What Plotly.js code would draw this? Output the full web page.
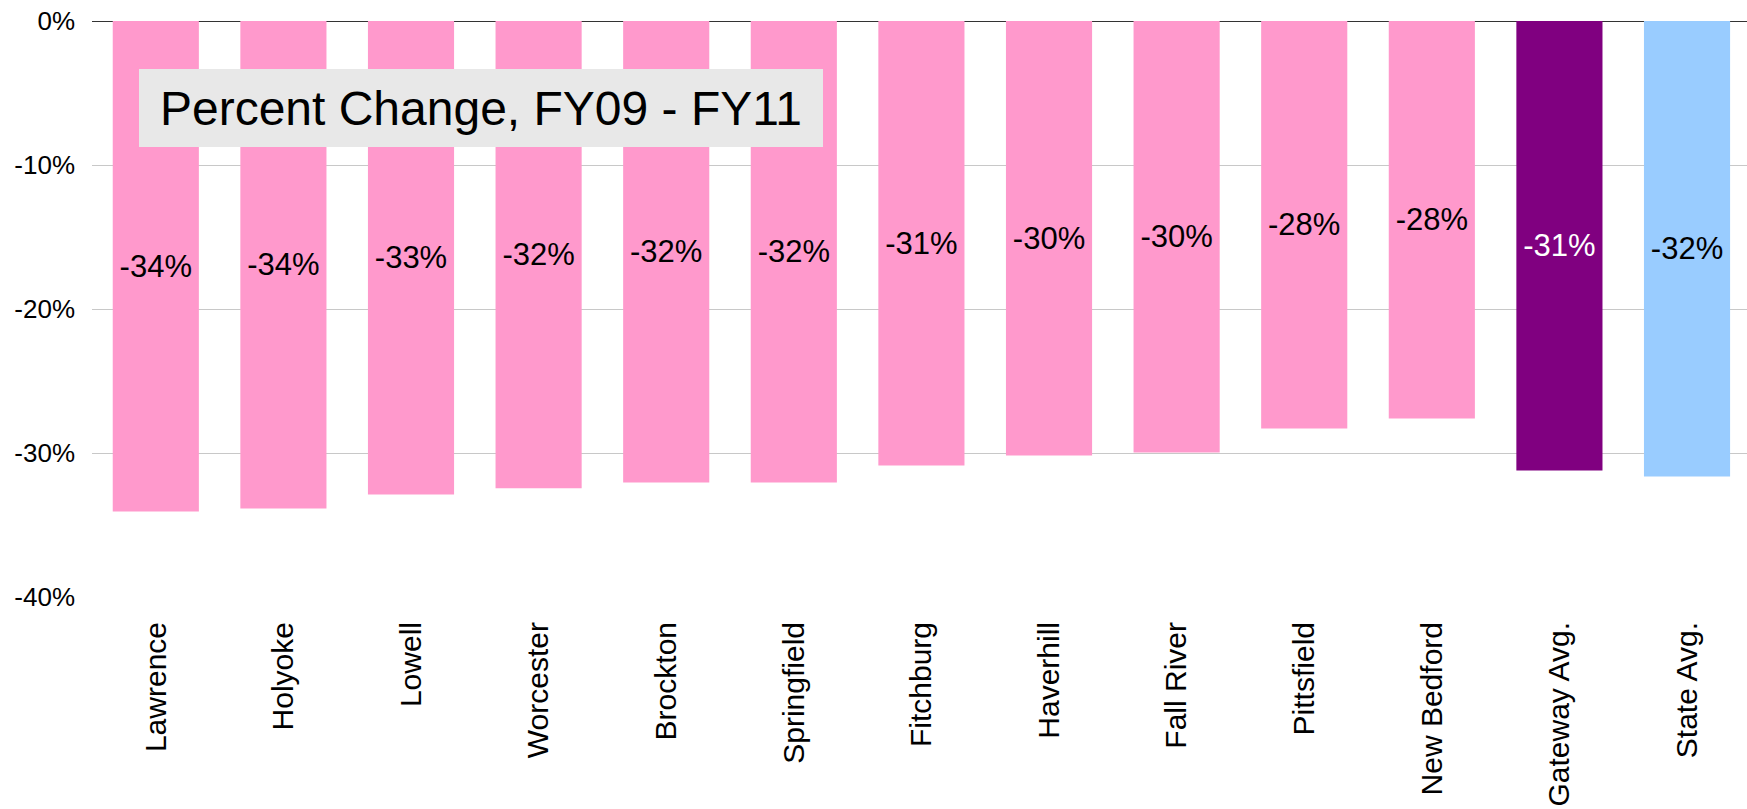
<!DOCTYPE html>
<html>
<head>
<meta charset="utf-8">
<script src="https://cdn.plot.ly/plotly-3.0.1.min.js"></script>
<style>
html,body{margin:0;padding:0;background:#fff;}
#chart{width:1747px;height:809px;}
</style>
</head>
<body>
<div id="chart"></div>
<script>
const categories = ["Lawrence","Holyoke","Lowell","Worcester","Brockton","Springfield","Fitchburg","Haverhill","Fall River","Pittsfield","New Bedford","Gateway Avg.","State Avg."];
const percentChange = [-34.06,-33.85,-32.88,-32.45,-32.05,-32.05,-30.87,-30.17,-29.97,-28.30,-27.6,-31.21,-31.63];
const barColors = ["#FF99CC","#FF99CC","#FF99CC","#FF99CC","#FF99CC","#FF99CC","#FF99CC","#FF99CC","#FF99CC","#FF99CC","#FF99CC","#800080","#99CCFF"];
const labelColors = ["#000","#000","#000","#000","#000","#000","#000","#000","#000","#000","#000","#fff","#000"];
const yTicks = [0,-10,-20,-30,-40];
const yTickText = ["0%","-10%","-20%","-30%","-40%"];
const titleText = "Percent Change, FY09 - FY11";

const FONT = "Liberation Sans, Arial, Helvetica, sans-serif";

const trace = {
  type: "bar",
  x: categories,
  y: percentChange,
  marker: {color: barColors, line: {width: 0}},
  text: percentChange.map(v => Math.round(v).toString() + "%"),
  texttemplate: "%{text}",
  textposition: "inside",
  insidetextanchor: "middle",
  textangle: 0,
  constraintext: "none",
  insidetextfont: {family: FONT, size: 31, color: labelColors},
  hoverinfo: "skip"
};

const layout = {
  width: 1747,
  height: 809,
  margin: {l: 92, r: 0, t: 21, b: 212},
  paper_bgcolor: "#fff",
  plot_bgcolor: "#fff",
  showlegend: false,
  bargap: 0.325,
  xaxis: {
    type: "category",
    range: [-0.5, 12.47],
    tickangle: -90,
    tickfont: {family: FONT, size: 30, color: "#000"},
    showgrid: false,
    showline: false,
    ticks: "",
    ticklabelstandoff: 18,
    zeroline: false
  },
  yaxis: {
    range: [-40, 0],
    tickmode: "array",
    tickvals: yTicks,
    ticktext: yTickText,
    tickfont: {family: FONT, size: 26, color: "#000"},
    showgrid: true,
    gridcolor: "#c8c8c8",
    gridwidth: 1,
    zeroline: true,
    zerolinecolor: "#333",
    zerolinewidth: 1,
    showline: false,
    ticks: "",
    ticklabelstandoff: 16
  },
  annotations: [{
    text: titleText,
    xref: "paper", yref: "paper",
    x: 0.0284, y: 0.9167,
    xanchor: "left", yanchor: "top",
    showarrow: false,
    bgcolor: "#e8e8e8",
    borderpad: 0,
    borderwidth: 0,
    width: 684,
    height: 78,
    align: "center",
    valign: "middle",
    font: {family: FONT, size: 48, color: "#000"}
  }]
};

Plotly.newPlot("chart", [trace], layout, {displayModeBar: false, staticPlot: true});
</script>
</body>
</html>
